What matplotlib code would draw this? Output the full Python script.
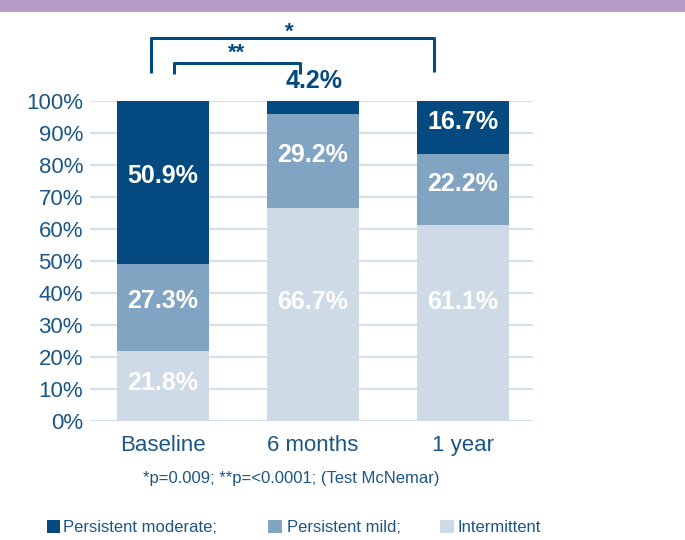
import matplotlib
matplotlib.use("Agg")
import matplotlib.pyplot as plt
from matplotlib.patches import Rectangle
import numpy as np

plt.rcParams['font.family'] = ['Liberation Sans', 'DejaVu Sans']

categories = ["Baseline", "6 months", "1 year"]
intermittent = [21.8, 66.7, 61.1]
persistent_mild = [27.3, 29.2, 22.2]
persistent_moderate = [50.9, 4.2, 16.7]
series_names = ["Persistent moderate;", "Persistent mild;", "Intermittent"]
yticks = list(range(0, 101, 10))
footnote = "*p=0.009; **p=<0.0001; (Test McNemar)"

# label layout (text placement, in % units)
light_label_y = [12.0, 37.2, 37.2]
label_lift = 1.9

c_dark = "#044a80"
c_mid = "#82a4c3"
c_light = "#cedbe6"
c_text = "#1c5686"
c_grid = "#d5dfe9"

fig = plt.figure(figsize=(6.85, 5.4), dpi=100)
fig.patches.append(Rectangle((0, 1 - 12 / 540), 1, 12 / 540, transform=fig.transFigure,
                             facecolor="#b79bc7", edgecolor="none"))

ax = fig.add_axes([90 / 685, 1 - 421 / 540, (533 - 90) / 685, 320 / 540])
x = np.arange(len(categories))
w = 0.61
ax.bar(x, intermittent, w, color=c_light, zorder=3)
ax.bar(x, persistent_mild, w, bottom=intermittent, color=c_mid, zorder=3)
bottom3 = np.array(intermittent) + np.array(persistent_mild)
ax.bar(x, persistent_moderate, w, bottom=bottom3, color=c_dark, zorder=3)

ax.set_xlim(-0.487, 2.467)
ax.set_ylim(0, 100)
ax.set_yticks(yticks)
ax.set_yticklabels([f"{t}%" for t in yticks], fontsize=16, color=c_text)
ax.set_xticks(x)
ax.set_xticklabels(categories, fontsize=16, color=c_text)
ax.tick_params(length=0)
ax.tick_params(axis='x', pad=10)
ax.tick_params(axis='y', pad=5)
for s in ax.spines.values():
    s.set_visible(False)
ax.yaxis.grid(True, color=c_grid, linewidth=1.5, zorder=0)
ax.set_axisbelow(True)

lab_kw = dict(ha="center", va="center", fontsize=18, fontweight="bold", zorder=5)
for i in range(len(categories)):
    ax.text(x[i], light_label_y[i], f"{intermittent[i]}%", color="white", **lab_kw)
    ax.text(x[i], intermittent[i] + persistent_mild[i] / 2 + label_lift,
            f"{persistent_mild[i]}%", color="white", **lab_kw)
    if persistent_moderate[i] > 8:
        ax.text(x[i], bottom3[i] + persistent_moderate[i] / 2 + label_lift,
                f"{persistent_moderate[i]}%", color="white", **lab_kw)
    else:
        ax.text(x[i] + 0.01, 106.3, f"{persistent_moderate[i]}%", color=c_dark,
                ha="center", va="center", fontsize=18, fontweight="bold", clip_on=False)

# significance brackets
bk = dict(color=c_dark, linewidth=2.2, clip_on=False, solid_capstyle="butt")
ax.plot([x[0] - 0.083, x[0] - 0.083, x[2] - 0.193, x[2] - 0.193], [108.6, 119.6, 119.6, 109.0], **bk)
ax.plot([x[0] + 0.073, x[0] + 0.073, x[1] - 0.087, x[1] - 0.087], [108.4, 112.0, 112.0, 108.4], **bk)
ax.text(0.84, 121.6, "*", color=c_dark, fontsize=16, fontweight="bold", ha="center", va="center", clip_on=False)
ax.text(0.49, 114.8, "**", color=c_dark, fontsize=16, fontweight="bold", ha="center", va="center", clip_on=False)

fig.text(291 / 685, 1 - 479 / 540, footnote, fontsize=12, color=c_text, ha="center", va="center")

leg_items = [(47, c_dark, series_names[0], 16), (268, c_mid, series_names[1], 19),
             (440, c_light, series_names[2], 17)]
for px, col, name, off in leg_items:
    fig.patches.append(Rectangle((px / 685, 1 - 533 / 540), 13.5 / 685, 13.5 / 540,
                                 transform=fig.transFigure, facecolor=col, edgecolor="none"))
    fig.text((px + off) / 685, 1 - 527 / 540, name, fontsize=12, color=c_text, ha="left", va="center")

fig.savefig("out.png", dpi=100)
